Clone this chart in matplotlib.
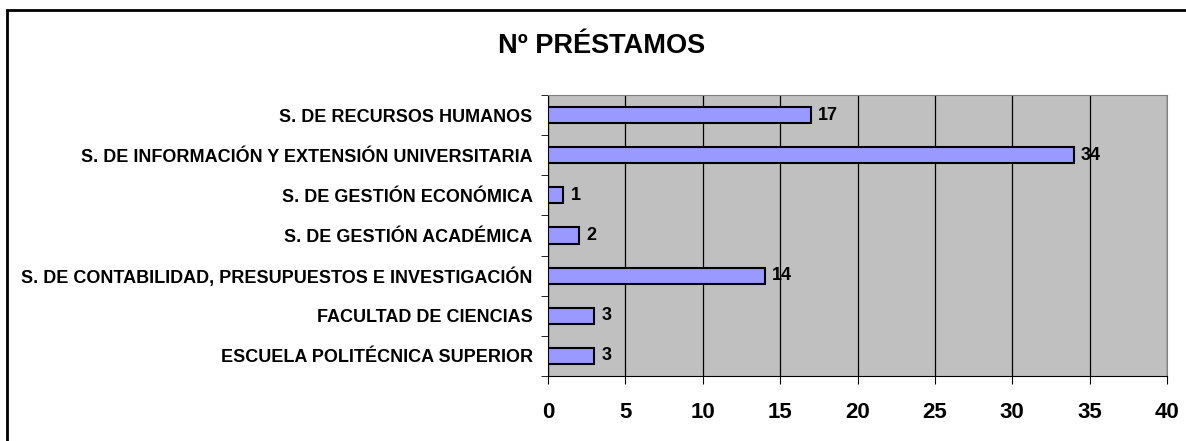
import matplotlib.pyplot as plt
from matplotlib.patches import Rectangle
from matplotlib.ticker import MultipleLocator

# datos, de arriba a abajo
servicios = [
    'S. DE RECURSOS HUMANOS',
    'S. DE INFORMACIÓN Y EXTENSIÓN UNIVERSITARIA',
    'S. DE GESTIÓN ECONÓMICA',
    'S. DE GESTIÓN ACADÉMICA',
    'S. DE CONTABILIDAD, PRESUPUESTOS E INVESTIGACIÓN',
    'FACULTAD DE CIENCIAS',
    'ESCUELA POLITÉCNICA SUPERIOR',
]
prestamos = [17, 34, 1, 2, 14, 3, 3]

plt.rcParams['font.family'] = ['Liberation Sans', 'DejaVu Sans']
plt.rcParams['font.weight'] = 'bold'

fig = plt.figure(figsize=(11.86, 4.41), dpi=100)
ax = fig.add_axes([548 / 1186, 1 - 376 / 441, (1167 - 548) / 1186, (376 - 95) / 441])

# marco exterior (solo se ven arriba y a la izquierda)
fig.patches.append(Rectangle((7 / 1186, -0.2), 1.3, (1 - 10 / 441) + 0.2,
                             transform=fig.transFigure, fill=False,
                             edgecolor='black', linewidth=2))

n = len(servicios)
pos = list(range(n))[::-1]
ax.set_facecolor('#C0C0C0')
ax.barh(pos, prestamos, height=0.4, color='#9999FF', edgecolor='black', linewidth=1.5, zorder=3)
for p, v in zip(pos, prestamos):
    ax.text(v + 0.45, p, str(v), va='center', ha='left', fontsize=13, fontweight='bold')

ax.set_xlim(0, 40)
ax.set_ylim(-0.5, n - 0.5)
ax.xaxis.set_major_locator(MultipleLocator(5))
ax.grid(axis='x', color='black', linewidth=0.9, zorder=1)
ax.set_axisbelow(True)

ax.set_yticks(pos)
ax.set_yticklabels(servicios, fontsize=13, fontweight='bold')
ax.set_yticks([i - 0.5 for i in range(n + 1)], minor=True)
ax.tick_params(axis='y', which='major', length=0, pad=11)
ax.tick_params(axis='y', which='minor', length=5, direction='out')
ax.tick_params(axis='x', length=6, direction='out', labelsize=16, pad=13)
for lbl in ax.get_xticklabels():
    lbl.set_fontweight('bold')

ax.spines['left'].set_color('black')
ax.spines['bottom'].set_color('black')
ax.spines['top'].set_color('#808080')
ax.spines['right'].set_color('#808080')

fig.text(602 / 1186, 1 - 53 / 441, 'Nº PRÉSTAMOS', ha='center', va='baseline',
         fontsize=19.5, fontweight='bold')

fig.savefig('out.png', dpi=100)
